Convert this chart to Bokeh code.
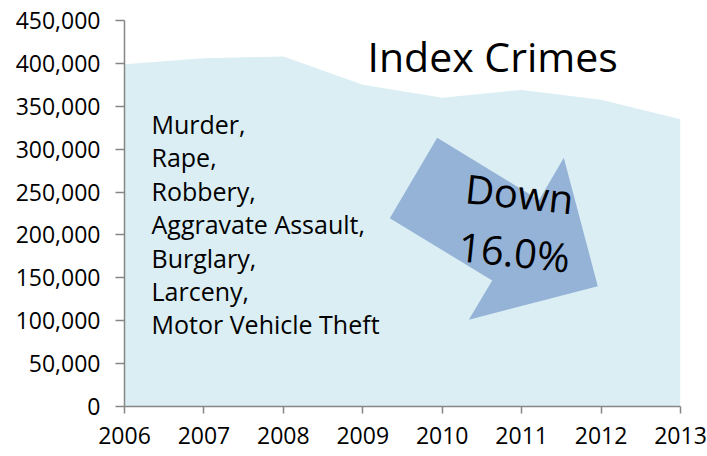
import math
from bokeh.plotting import figure
from bokeh.models import Range1d, FixedTicker, NumeralTickFormatter, Label
from bokeh.embed import file_html
from bokeh.resources import INLINE

# ---- data ----
years = [2006, 2007, 2008, 2009, 2010, 2011, 2012, 2013]
index_crimes = [399000, 406000, 408000, 375000, 360000, 369000, 357500, 335000]
y_ticks = [0, 50000, 100000, 150000, 200000, 250000, 300000, 350000, 400000, 450000]
title_text = "Index Crimes"
crime_types = ["Murder,", "Rape,", "Robbery,", "Aggravate Assault,", "Burglary,",
               "Larceny,", "Motor Vehicle Theft"]
arrow_lines = ["Down", "16.0%"]

FONT = "Open Sans"
AXIS_COLOR = "#868686"
AREA_COLOR = "#DAEEF3"
ARROW_COLOR = "#95B3D7"

W, H = 707, 450
BL, BR, BT, BB = 124, 27, 20, 44
FW, FH = W - BL - BR, H - BT - BB

p = figure(width=W, height=H, output_backend="svg", toolbar_location=None,
           x_range=Range1d(years[0], years[-1]), y_range=Range1d(0, 450000),
           min_border_left=BL, min_border_right=BR, min_border_top=BT,
           min_border_bottom=BB)
p.outline_line_color = None
p.xgrid.visible = False
p.ygrid.visible = False
p.background_fill_color = "white"
p.border_fill_color = "white"

# canvas-pixel -> data helper for decorations
def pg(cx, cy):
    x = years[0] + (cx - BL) / FW * (years[-1] - years[0])
    y = (BT + FH - cy) / FH * 450000
    return x, y

# area
p.varea(x=years, y1=0, y2=index_crimes, fill_color=AREA_COLOR)

# axes
for ax in (p.xaxis[0], p.yaxis[0]):
    ax.axis_line_color = AXIS_COLOR
    ax.axis_line_width = 1.5
    ax.major_tick_line_color = AXIS_COLOR
    ax.major_tick_line_width = 1.5
    ax.minor_tick_line_color = None
    ax.major_tick_in = 0
    ax.major_label_text_font = FONT
    ax.major_label_text_font_size = "23px"
    ax.major_label_text_color = "#000000"

p.xaxis.ticker = FixedTicker(ticks=years)
p.xaxis.major_tick_out = 7
p.xaxis.major_label_standoff = 13
p.yaxis.ticker = FixedTicker(ticks=y_ticks)
p.yaxis.formatter = NumeralTickFormatter(format="0,0")
p.yaxis.major_tick_out = 9
p.yaxis.major_label_standoff = 15

# arrow (block arrow decoration)
arrow_px = [(436.7, 137.3), (538.6, 199.5), (563.3, 157.3), (597.3, 285.7),
            (468.3, 319.3), (491.7, 280.0), (389.3, 217.7)]
ax_, ay_ = zip(*[pg(a, b) for a, b in arrow_px])
p.patch(list(ax_), list(ay_), fill_color=ARROW_COLOR, line_color=None)

# title
tx, ty = pg(367, 55)
p.add_layout(Label(x=tx, y=ty, text=title_text, text_font=FONT, text_font_size="41px",
                   text_color="#000000", text_baseline="alphabetic", text_align="left"))

# crime types text block
for i, t in enumerate(crime_types):
    lx, ly = pg(151, 123.5 + i * 33.4)
    p.add_layout(Label(x=lx, y=ly, text=t, text_font=FONT, text_font_size="25px",
                       text_color="#000000", text_baseline="alphabetic", text_align="left"))

# arrow text
for t, (xp, yp) in zip(arrow_lines, [(465, 187), (458, 245)]):
    lx, ly = pg(xp, yp)
    p.add_layout(Label(x=lx, y=ly, text=t, text_font=FONT, text_font_size="40px",
                       text_color="#000000", text_baseline="alphabetic", text_align="left",
                       angle=-6 * math.pi / 180))

open("out.html", "w").write(file_html(p, INLINE))
